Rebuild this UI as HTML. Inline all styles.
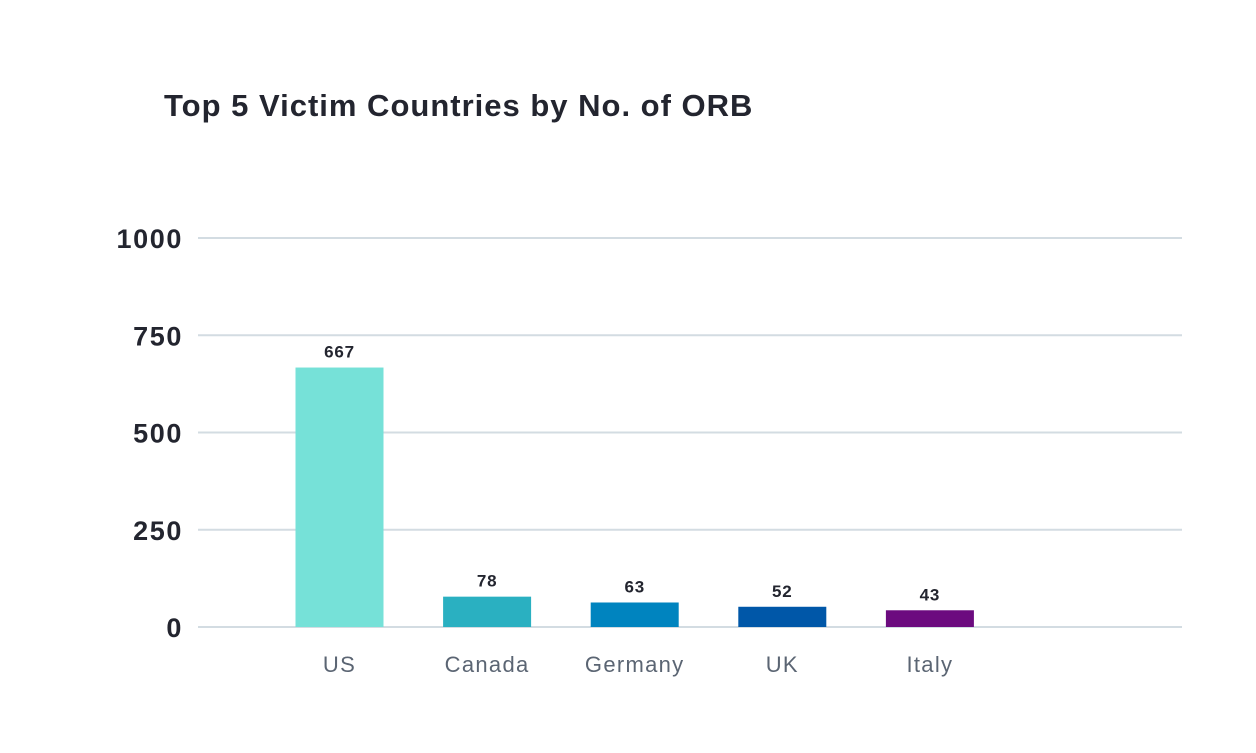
<!DOCTYPE html>
<html><head><meta charset="utf-8"><style>
html,body{margin:0;padding:0;background:#fff;}
svg{display:block;font-family:"Liberation Sans",sans-serif;}
</style></head><body>
<svg id="chart" width="1256" height="753">
<text x="164" y="116" font-size="31" font-weight="bold" letter-spacing="1" fill="#23252f">Top 5 Victim Countries by No. of ORB</text>
<g id="grid"></g><g id="bars"></g>
</svg>
<script>
const categories=["US","Canada","Germany","UK","Italy"];
const values=[667,78,63,52,43];
const colors=["#76e1d8","#2ab0c1","#0084bf","#0057a8","#6c0b7f"];
const ticks=[0,250,500,750,1000];
const ns="http://www.w3.org/2000/svg";
const svg=document.getElementById("chart");
const y=v=>627-v*(627-238)/1000;
const x=i=>339.5+i*147.6;
function mk(t,a,p){const e=document.createElementNS(ns,t);for(const k in a)e.setAttribute(k,a[k]);p.appendChild(e);return e;}
const g=document.getElementById("grid"),b=document.getElementById("bars");
ticks.forEach(t=>{
 const l=mk("line",{x1:198,x2:1182,y1:y(t),y2:y(t),stroke:"#d3dce2","stroke-width":2},g);
 
 
 const tx=mk("text",{x:183,y:y(t)+10,"text-anchor":"end","font-size":27,"font-weight":"bold","letter-spacing":1.6,fill:"#23252f"},g);
 tx.textContent=t;
 
 
});
categories.forEach((c,i)=>{
 const r=mk("rect",{x:x(i)-44,y:y(values[i]),width:88,height:627-y(values[i]),fill:colors[i]},b);
 
 
 const v=mk("text",{x:x(i),y:y(values[i])-10,"text-anchor":"middle","font-size":17,"font-weight":"bold","letter-spacing":0.8,fill:"#23252f"},b);
 v.textContent=values[i];
 
 
 const t=mk("text",{x:x(i),y:672,"text-anchor":"middle","font-size":22,"letter-spacing":1.3,fill:"#5b6573"},b);
 t.textContent=c;
 
 
});
</script>
</body></html>
